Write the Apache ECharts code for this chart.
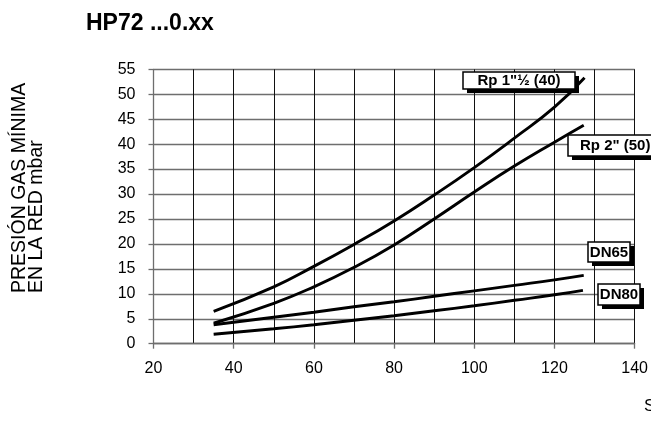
<!DOCTYPE html>
<html>
<head>
<meta charset="utf-8">
<script src="https://cdn.jsdelivr.net/npm/echarts@6/dist/echarts.min.js"></script>
<style>html,body{margin:0;padding:0;background:#fff}#c{width:651px;height:421px}</style>
</head>
<body>
<div id="c"></div>
<script>
// ---- data ----
const title = 'HP72 ...0.xx';
const yName1 = 'PRESIÓN GAS MÍNIMA';
const yName2 = 'EN LA RED mbar';
const xName = 'S';
const seriesNames = ['Rp 1"½ (40)', 'Rp 2" (50)', 'DN65', 'DN80'];

const xRp40 = [35, 50, 60, 70, 80, 90, 100, 110, 120, 127.5];
const yRp40 = [6.5, 11.4, 15.5, 19.9, 24.6, 29.8, 35.3, 41.2, 47.4, 53.3];

const xRp50 = [35, 50, 60, 70, 80, 90, 100, 110, 120, 127.3];
const yRp50 = [4.1, 8.1, 11.4, 15.3, 19.8, 25.0, 30.4, 35.6, 40.4, 43.8];

const xDN65 = [35, 50, 60, 70, 80, 90, 100, 110, 120, 127.3];
const yDN65 = [3.8, 5.3, 6.3, 7.4, 8.4, 9.5, 10.6, 11.7, 12.8, 13.7];

const xDN80 = [35, 50, 60, 70, 80, 90, 100, 110, 120, 127.1];
const yDN80 = [1.9, 3.0, 3.8, 4.7, 5.6, 6.6, 7.6, 8.7, 9.8, 10.7];

const xMin = 20, xMax = 140, xStep = 20;
const yMin = 0, yMax = 55, yStep = 5;

// ---- chart ----
const pairs = (xs, ys) => xs.map((x, i) => [x, ys[i]]);
const FONT = 'Liberation Sans, Arial, sans-serif';

function mkLine(name, xs, ys) {
  return {
    name: name, type: 'line', data: pairs(xs, ys), smooth: 0.5,
    symbol: 'none', lineStyle: { color: '#000', width: 2.9 }, z: 3
  };
}

function labelBox(x, y, w, h, text, tx, align) {
  return {
    type: 'group', z: 100,
    children: [
      { type: 'rect', shape: { x: x + 4, y: y + 4, width: w, height: h }, style: { fill: '#000' }, z: 100 },
      { type: 'rect', shape: { x: x, y: y, width: w, height: h }, style: { fill: '#fff', stroke: '#000', lineWidth: 1.5 }, z: 101 },
      { type: 'text', x: tx, y: y + h / 2 + 0.5, z: 102,
        style: { text: text, font: 'bold 15px ' + FONT, fill: '#000', textAlign: align, textVerticalAlign: 'middle' } }
    ]
  };
}

const chart = echarts.init(document.getElementById('c'), null, { renderer: 'canvas' });
chart.setOption({
  animation: false,
  backgroundColor: '#fff',
  grid: { left: 153.5, right: 15.5, top: 69.3, bottom: 77.3, containLabel: false },
  xAxis: {
    type: 'value', min: xMin, max: xMax, interval: xStep,
    axisLine: { show: true, lineStyle: { color: '#6e6e6e', width: 1.3 } },
    axisTick: { show: true, length: 5, lineStyle: { color: '#6e6e6e', width: 1.3 } },
    axisLabel: { fontSize: 16, color: '#000', margin: 17, fontFamily: FONT },
    splitLine: { show: true, lineStyle: { color: '#111', width: 1 } },
    minorTick: { show: false, splitNumber: 2 },
    minorSplitLine: { show: true, lineStyle: { color: '#111', width: 1 } }
  },
  yAxis: {
    type: 'value', min: yMin, max: yMax, interval: yStep,
    axisLine: { show: true, lineStyle: { color: '#6e6e6e', width: 1.3 } },
    axisTick: { show: true, length: 5, lineStyle: { color: '#6e6e6e', width: 1.3 } },
    axisLabel: { fontSize: 16, color: '#000', margin: 18, fontFamily: FONT },
    splitLine: { show: true, lineStyle: { color: '#6e6e6e', width: 1.3 } }
  },
  series: [
    mkLine(seriesNames[0], xRp40, yRp40),
    mkLine(seriesNames[1], xRp50, yRp50),
    mkLine(seriesNames[2], xDN65, yDN65),
    mkLine(seriesNames[3], xDN80, yDN80)
  ],
  graphic: [
    { type: 'text', x: 86, y: 24, style: { text: title, font: 'bold 23px ' + FONT, fill: '#000', textVerticalAlign: 'middle' } },
    { type: 'text', x: 20, y: 293, rotation: Math.PI / 2,
      style: { text: yName1, font: '19.5px ' + FONT, fill: '#000', textAlign: 'left', textVerticalAlign: 'middle' } },
    { type: 'text', x: 37, y: 293, rotation: Math.PI / 2,
      style: { text: yName2, font: '19.5px ' + FONT, fill: '#000', textAlign: 'left', textVerticalAlign: 'middle' } },
    { type: 'text', x: 644, y: 406, style: { text: xName, font: '17px ' + FONT, fill: '#000', textVerticalAlign: 'middle' } },
    labelBox(463, 72, 112, 17, seriesNames[0], 519, 'center'),
    labelBox(568, 135, 100, 21, seriesNames[1], 580, 'left'),
    labelBox(588, 242, 42, 20, seriesNames[2], 609, 'center'),
    labelBox(598, 284, 42, 21, seriesNames[3], 619, 'center')
  ]
});
</script>
</body>
</html>
